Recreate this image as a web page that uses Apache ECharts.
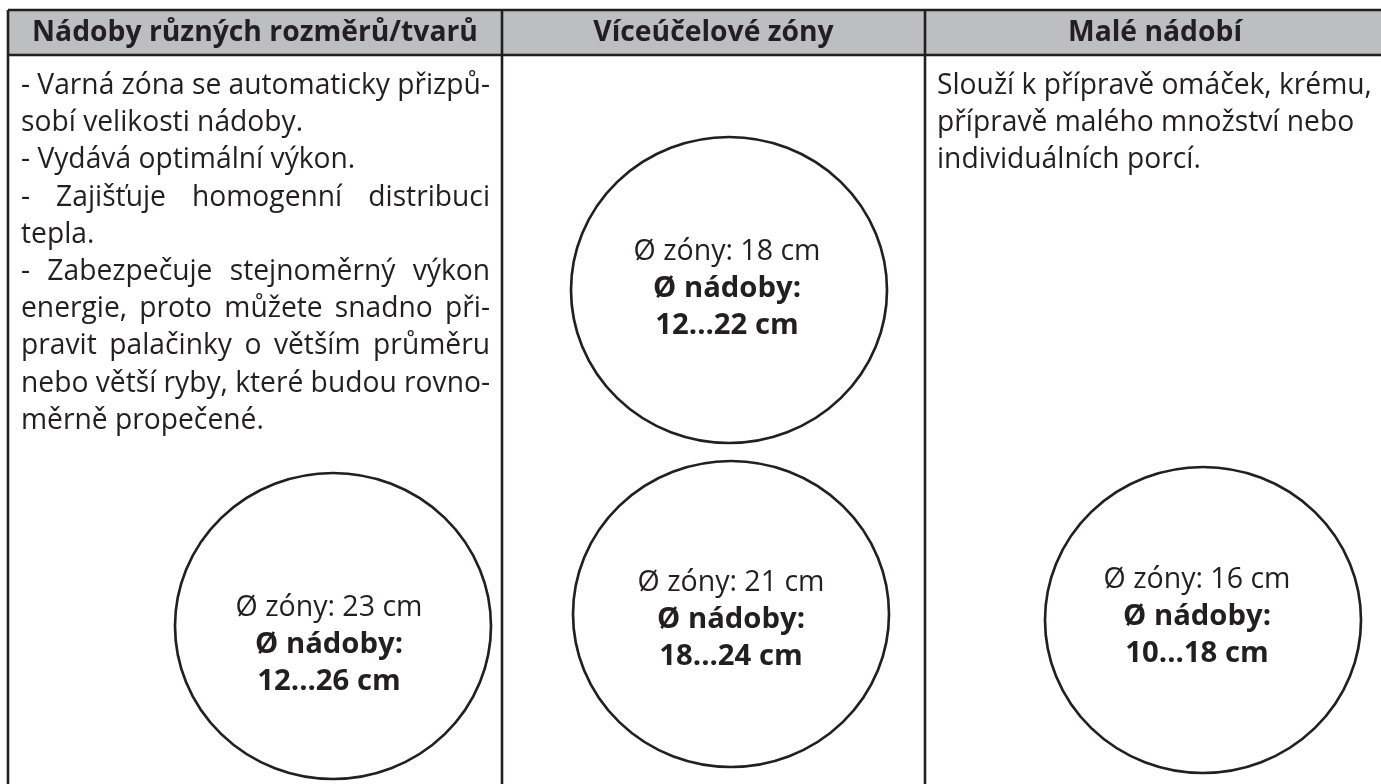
<!DOCTYPE html>
<html><head><meta charset="utf-8">
<script src="https://cdn.jsdelivr.net/npm/echarts@6/dist/echarts.min.js"></script>
<style>html,body{margin:0;padding:0;background:#fff}#c{width:1381px;height:784px}</style>
</head><body><div id="c"></div>
<script>
// ---------- DATA ----------
const headers = ['Nádoby různých rozměrů/tvarů', 'Víceúčelové zóny', 'Malé nádobí'];
const col1Lines = [
  '- Varná zóna se automaticky přizpů-',
  'sobí velikosti nádoby.',
  '- Vydává optimální výkon.',
  '- Zajišťuje homogenní distribuci',
  'tepla.',
  '- Zabezpečuje stejnoměrný výkon',
  'energie, proto můžete snadno při-',
  'pravit palačinky o větším průměru',
  'nebo větší ryby, které budou rovno-',
  'měrně propečené.'
];
const col2Lines = [];
const col3Lines = [
  'Slouží k přípravě omáček, krému,',
  'přípravě malého množství nebo',
  'individuálních porcí.'
];
const zoneColumn = [0, 1, 1, 2];
const zoneDiameter = [23, 18, 21, 16];
const potRange = ['12...26', '12...22', '18...24', '10...18'];

// ---------- LAYOUT / STYLE ----------
const W = 1381, H = 784;
const L = {
  colEdges: [8, 502, 925, 1385],
  tableTop: 10, headerBottom: 55, tableBottom: 800,
  headerMidY: 33,
  textLeft: [21, 0, 937], textRight: [490, 0, 1375],
  firstLineY: 86, lineStep: 37.2,
  justified: [[0, 3, 5, 6, 7, 8], [], []],
  circles: [[333, 626], [729, 290], [731, 614], [1203, 620]],
  circleSize: [316, 306],
  labelOffset: [[-4, 19], [-2, -1], [0, 6], [-6, -3]],
  ink: '#231f20', headerFill: '#bcbec0', border: 2.6
};
const FONT = '"Open Sans", "Noto Sans", sans-serif';
const cv = document.createElement('canvas').getContext('2d');
function measure(t, size, weight) { cv.font = (weight || 'normal') + ' ' + size + 'px ' + FONT; return cv.measureText(t).width; }
function fit(t, target, weight) { return +(100 * target / measure(t, 100, weight)).toFixed(2); }
const bodySize = fit('Slouží k přípravě omáček, krému,', 435);
const headSize = fit('Nádoby různých rozměrů/tvarů', 446, 'bold');
const circSize = fit('Ø zóny: 23 cm', 187);
const circBold = fit('Ø nádoby:', 148, 'bold');

const columnsLines = [col1Lines, col2Lines, col3Lines];
const bodyItems = [];
columnsLines.forEach((lines, c) => lines.forEach((t, i) => bodyItems.push([c, i])));

const chart = echarts.init(document.getElementById('c'), null, { renderer: 'canvas' });
chart.setOption({
  animation: false,
  backgroundColor: '#fff',
  grid: { left: 0, right: 0, top: 0, bottom: 0 },
  xAxis: { type: 'value', min: 0, max: W, show: false },
  yAxis: { type: 'value', min: 0, max: H, inverse: true, show: false },
  series: [
    { // header cells
      type: 'custom', clip: false, silent: true,
      data: headers.map((h, i) => [i]),
      renderItem: (params, api) => {
        const i = api.value(0);
        const p0 = api.coord([L.colEdges[i], L.tableTop]);
        const p1 = api.coord([L.colEdges[i + 1], L.headerBottom]);
        const mid = api.coord([(L.colEdges[i] + L.colEdges[i + 1]) / 2, L.headerMidY]);
        return { type: 'group', children: [
          { type: 'rect', shape: { x: p0[0], y: p0[1], width: p1[0] - p0[0], height: p1[1] - p0[1] }, style: { fill: L.headerFill } },
          { type: 'text', x: mid[0], y: mid[1], style: { text: headers[i], fill: L.ink, font: 'bold ' + headSize + 'px ' + FONT, textAlign: 'center', textVerticalAlign: 'middle' } }
        ] };
      }
    },
    { // body text lines
      type: 'custom', clip: false, silent: true,
      data: bodyItems,
      renderItem: (params, api) => {
        const c = api.value(0), i = api.value(1);
        const text = columnsLines[c][i];
        const y = api.coord([0, L.firstLineY + i * L.lineStep])[1];
        const xl = api.coord([L.textLeft[c], 0])[0];
        const xr = api.coord([L.textRight[c], 0])[0];
        const font = bodySize + 'px ' + FONT;
        const st = (t) => ({ text: t, fill: L.ink, font: font, textAlign: 'left', textVerticalAlign: 'middle' });
        if (L.justified[c].indexOf(i) < 0) {
          return { type: 'text', x: xl, y: y, style: st(text) };
        }
        const words = text.split(' ');
        const ws = words.map(w => measure(w, bodySize));
        const gap = (xr - xl - ws.reduce((a, b) => a + b, 0)) / (words.length - 1);
        let x = xl;
        const children = words.map((w, k) => { const el = { type: 'text', x: x, y: y, style: st(w) }; x += ws[k] + gap; return el; });
        return { type: 'group', children: children };
      }
    },
    { // table rules
      type: 'custom', clip: false, silent: true,
      data: L.colEdges.map((e, i) => [i]).concat([[-1], [-2]]),
      renderItem: (params, api) => {
        const i = api.value(0);
        let a, b;
        if (i >= 0) { a = api.coord([L.colEdges[i], L.tableTop]); b = api.coord([L.colEdges[i], L.tableBottom]); }
        else { const yy = i === -1 ? L.tableTop : L.headerBottom; a = api.coord([L.colEdges[0], yy]); b = api.coord([L.colEdges[3], yy]); }
        return { type: 'line', shape: { x1: a[0], y1: a[1], x2: b[0], y2: b[1] }, style: { stroke: L.ink, lineWidth: L.border } };
      }
    },
    { // cooking zones
      type: 'scatter', silent: true,
      symbol: 'circle', symbolSize: L.circleSize,
      itemStyle: { color: 'rgba(0,0,0,0)', borderColor: L.ink, borderWidth: 2.6, opacity: 1 },
      data: zoneDiameter.map((d, k) => ({
        value: L.circles[k],
        label: { offset: L.labelOffset[k] },
        name: String(k)
      })),
      label: {
        show: true, position: 'inside',
        formatter: (p) => { const k = +p.name; return '{a|Ø zóny: ' + zoneDiameter[k] + ' cm}\n{b|Ø nádoby:}\n{b|' + potRange[k] + ' cm}'; },
        rich: {
          a: { fontFamily: FONT, fontSize: circSize, color: L.ink, lineHeight: 37, align: 'center' },
          b: { fontFamily: FONT, fontSize: circBold, fontWeight: 'bold', color: L.ink, lineHeight: 37, align: 'center' }
        }
      }
    }
  ]
});
</script>
</body></html>
